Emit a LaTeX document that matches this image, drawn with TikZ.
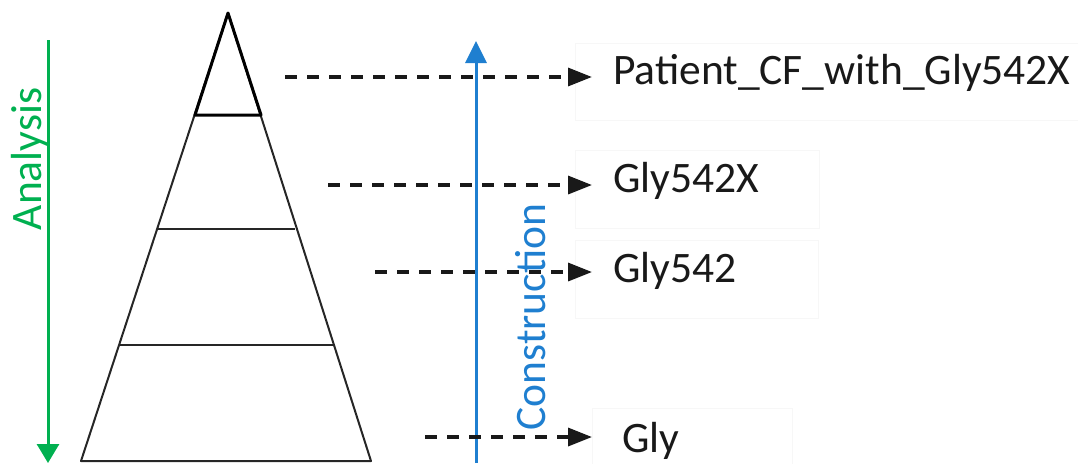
\documentclass[tikz,border=0pt]{standalone}
\usepackage{fontspec}
\setmainfont{Carlito}
\usetikzlibrary{arrows.meta}
\definecolor{agreen}{HTML}{00B050}
\definecolor{cblue}{HTML}{1F7FD0}
\definecolor{faint}{HTML}{F7F7F7}
\tikzset{
  tri/.style={line width=2pt, draw=black!85, line join=round},
  trithick/.style={line width=3pt, draw=black, line join=round},
  dasharrow/.style={line width=3.4pt, dash pattern=on 12pt off 10pt, draw=black!90,
    -{Triangle[length=24pt,width=18pt]}, shorten >=21pt},
  lbl/.style={font=\fontsize{43.5}{48}\selectfont, text=black!90, inner sep=0pt, anchor=base west},
  fbox/.style={draw=faint, line width=1pt},
}
\begin{document}
\begin{tikzpicture}[x=1pt,y=-1pt]
\useasboundingbox (0,0) rectangle (1078,463);
% faint label boxes
\draw[fbox] (575,43) rectangle (1090,120);
\draw[fbox] (575,150) rectangle (819,228);
\draw[fbox] (575,240) rectangle (818,318);
\draw[fbox] (592,408) rectangle (792,475);
% pyramid
\coordinate (apex) at (228,13);
\coordinate (bl) at (81,461);
\coordinate (br) at (371,461);
\draw[tri] (apex) -- (bl) -- (br) -- cycle;
\draw[tri] (157,229) -- (295,229);
\draw[tri, line width=2.6pt] (119,345) -- (333,345);
\draw[trithick] (apex) -- (195,115) -- (261,115) -- cycle;
% analysis arrow
\coordinate (a0) at (48,40);
\coordinate (a1) at (48,463);
\draw[agreen, line width=3pt, -{Triangle[length=19pt,width=22pt]}] (a0) -- (a1);
\node[font=\fontsize{43.5}{48}\selectfont, text=agreen, rotate=90, inner sep=0pt] (ana) at (30,159) {Analysis};
% construction arrow
\coordinate (c0) at (476,463);
\coordinate (c1) at (476,41);
\draw[cblue, line width=3pt, -{Triangle[length=22pt,width=21pt]}] (c0) -- (c1);
\node[font=\fontsize{43.5}{48}\selectfont, text=cblue, rotate=90, inner sep=0pt] (con) at (531,317) {Construction};
% labels
\node[lbl] (p1) at (613,84) {Patient\_CF\_with\_Gly542X};
\node[lbl] (p2) at (613,192) {Gly542X};
\node[lbl] (p3) at (613,282) {Gly542};
\node[lbl] (p4) at (622,452) {Gly};
% dashed arrows
\coordinate (s1) at (285,77);
\coordinate (s2) at (328,185);
\coordinate (s3) at (375,272);
\coordinate (s4) at (425,437);
\draw[dasharrow] (s1) -- (s1 -| p1.west);
\draw[dasharrow] (s2) -- (s2 -| p2.west);
\draw[dasharrow] (s3) -- (s3 -| p3.west);
\draw[dasharrow, shorten >=30pt] (s4) -- (s4 -| p4.west);
\end{tikzpicture}
\end{document}
